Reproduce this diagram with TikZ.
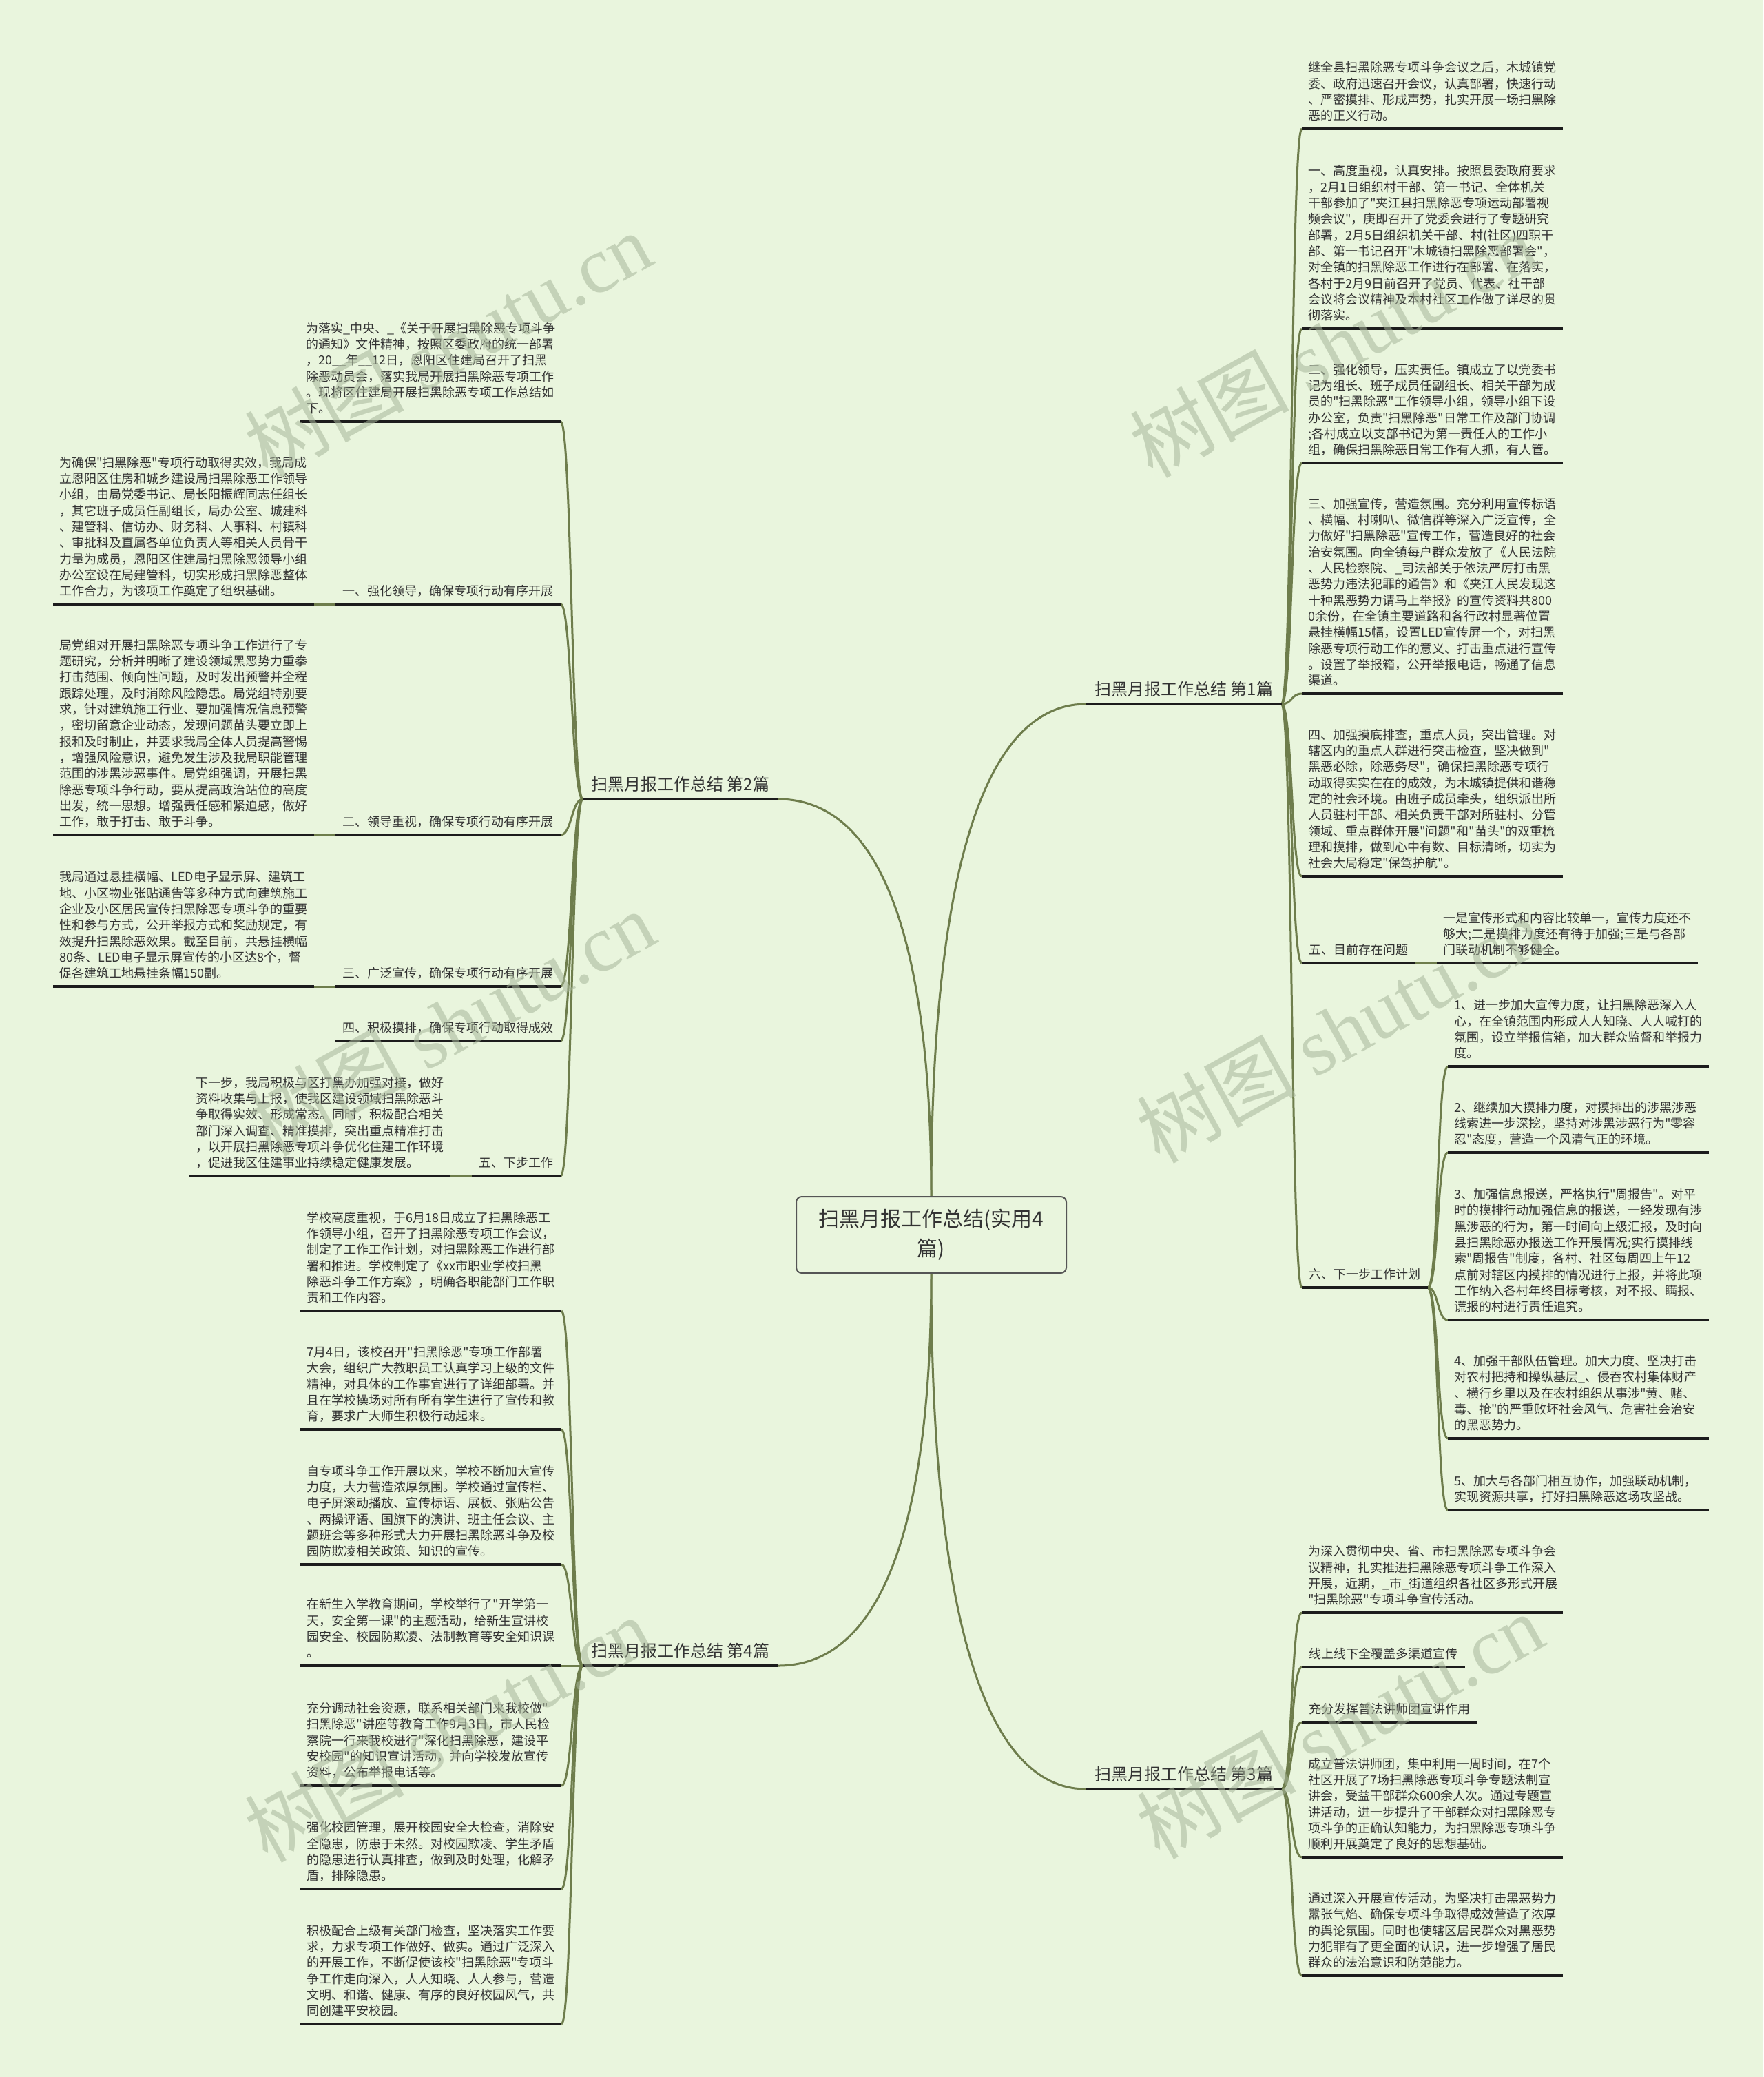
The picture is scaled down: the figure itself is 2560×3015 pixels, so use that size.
\documentclass[tikz,border=0pt]{standalone}
\usepackage{fontspec}
\setmainfont{Noto Sans CJK SC}[Ligatures=TeXOff]
\newfontfamily\wmlatin{Liberation Serif}
\usetikzlibrary{calc}
\definecolor{bg}{HTML}{E9F5DD}
\definecolor{txt}{HTML}{333333}
\definecolor{connc}{HTML}{6E7D4C}
\definecolor{ulc}{HTML}{1C1C1C}
\definecolor{rootline}{HTML}{555555}
\definecolor{wmc}{HTML}{A7B69A}
\tikzset{
  para/.style={font=\fontsize{9pt}{11.65pt}\selectfont, text=txt, align=left, text width=180pt, inner xsep=4.5pt, inner ysep=3pt, execute at end node={\rule[-3pt]{0pt}{1pt}}},
  lbl/.style={font=\fontsize{9pt}{11.65pt}\selectfont, text=txt, inner xsep=5pt, inner ysep=3pt, execute at end node={\rule[-3pt]{0pt}{1pt}}},
  br/.style={font=\fontsize{12pt}{14pt}\selectfont, text=txt, inner xsep=6pt, inner ysep=3pt, execute at end node={\rule[-3pt]{0pt}{1pt}}},
  rootbox/.style={draw=rootline, line width=1pt, rounded corners=4pt, fill=bg, minimum width=196pt, minimum height=55.5pt, align=center, font=\fontsize{15pt}{21.5pt}\selectfont, text=txt},
  conn/.style={draw=connc, line width=1.5pt},
  uline/.style={draw=ulc, line width=1.6pt},
  wm/.style={text=wmc, text opacity=0.55, rotate=29, font=\fontsize{58pt}{60pt}\selectfont, inner sep=0pt}
}
\newcommand\rootconn[2]{\draw[conn] (#1) .. controls ($(#1)!0.5!(#1 |- #2)$) and ($(#1 |- #2)!0.2!(#2)$) .. (#2);}
\newcommand\rconn[2]{\draw[conn] (#1) .. controls +(16,0) and +(-16,0) .. (#2);}
\newcommand\lconn[2]{\draw[conn] (#1) .. controls +(-16,0) and +(16,0) .. (#2);}
\begin{document}
\begin{tikzpicture}[x=0.5pt,y=-0.5pt]
\fill[bg] (0,0) rectangle (2560,3015);
\useasboundingbox (0,0) rectangle (2560,3015);

% ---------- branch labels ----------
\node[br, anchor=south west] (b1) at (1577,1022) {扫黑月报工作总结 第1篇};
\node[br, anchor=south west] (b2) at (846,1160) {扫黑月报工作总结 第2篇};
\node[br, anchor=south west] (b3) at (1577,2597) {扫黑月报工作总结 第3篇};
\node[br, anchor=south west] (b4) at (846,2418) {扫黑月报工作总结 第4篇};

% ---------- part 1 (right top) ----------
\node[para, anchor=south west] (r1) at (1890,187) {继全县扫黑除恶专项斗争会议之后，木城镇党\\委、政府迅速召开会议，认真部署，快速行动\\、严密摸排、形成声势，扎实开展一场扫黑除\\恶的正义行动。};
\node[para, anchor=south west] (r2) at (1890,477) {一、高度重视，认真安排。按照县委政府要求\\，2月1日组织村干部、第一书记、全体机关\\干部参加了"夹江县扫黑除恶专项运动部署视\\频会议"，庚即召开了党委会进行了专题研究\\部署，2月5日组织机关干部、村(社区)四职干\\部、第一书记召开"木城镇扫黑除恶部署会"，\\对全镇的扫黑除恶工作进行在部署、在落实，\\各村于2月9日前召开了党员、代表、社干部\\会议将会议精神及本村社区工作做了详尽的贯\\彻落实。};
\node[para, anchor=south west] (r3) at (1890,672) {二、强化领导，压实责任。镇成立了以党委书\\记为组长、班子成员任副组长、相关干部为成\\员的"扫黑除恶"工作领导小组，领导小组下设\\办公室，负责"扫黑除恶"日常工作及部门协调\\;各村成立以支部书记为第一责任人的工作小\\组，确保扫黑除恶日常工作有人抓，有人管。};
\node[para, anchor=south west] (r4) at (1890,1007) {三、加强宣传，营造氛围。充分利用宣传标语\\、横幅、村喇叭、微信群等深入广泛宣传，全\\力做好"扫黑除恶"宣传工作，营造良好的社会\\治安氛围。向全镇每户群众发放了《人民法院\\、人民检察院、\_司法部关于依法严厉打击黑\\恶势力违法犯罪的通告》和《夹江人民发现这\\十种黑恶势力请马上举报》的宣传资料共800\\0余份，在全镇主要道路和各行政村显著位置\\悬挂横幅15幅，设置LED宣传屏一个，对扫黑\\除恶专项行动工作的意义、打击重点进行宣传\\。设置了举报箱，公开举报电话，畅通了信息\\渠道。};
\node[para, anchor=south west] (r5) at (1890,1272) {四、加强摸底排查，重点人员，突出管理。对\\辖区内的重点人群进行突击检查，坚决做到"\\黑恶必除，除恶务尽"，确保扫黑除恶专项行\\动取得实实在在的成效，为木城镇提供和谐稳\\定的社会环境。由班子成员牵头，组织派出所\\人员驻村干部、相关负责干部对所驻村、分管\\领域、重点群体开展"问题"和"苗头"的双重梳\\理和摸排，做到心中有数、目标清晰，切实为\\社会大局稳定"保驾护航"。};
\node[lbl, anchor=south west] (r6) at (1890,1398) {五、目前存在问题};
\node[para, anchor=south west] (r6g) at (2086,1398) {一是宣传形式和内容比较单一，宣传力度还不\\够大;二是摸排力度还有待于加强;三是与各部\\门联动机制不够健全。};
\node[lbl, anchor=south west] (r7) at (1890,1869) {六、下一步工作计划};
\node[para, anchor=south west] (r7a) at (2102,1548) {1、进一步加大宣传力度，让扫黑除恶深入人\\心，在全镇范围内形成人人知晓、人人喊打的\\氛围，设立举报信箱，加大群众监督和举报力\\度。};
\node[para, anchor=south west] (r7b) at (2102,1673) {2、继续加大摸排力度，对摸排出的涉黑涉恶\\线索进一步深挖，坚持对涉黑涉恶行为"零容\\忍"态度，营造一个风清气正的环境。};
\node[para, anchor=south west] (r7c) at (2102,1916) {3、加强信息报送，严格执行"周报告"。对平\\时的摸排行动加强信息的报送，一经发现有涉\\黑涉恶的行为，第一时间向上级汇报，及时向\\县扫黑除恶办报送工作开展情况;实行摸排线\\索"周报告"制度，各村、社区每周四上午12\\点前对辖区内摸排的情况进行上报，并将此项\\工作纳入各村年终目标考核，对不报、瞒报、\\谎报的村进行责任追究。};
\node[para, anchor=south west] (r7d) at (2102,2088) {4、加强干部队伍管理。加大力度、坚决打击\\对农村把持和操纵基层\_、侵吞农村集体财产\\、横行乡里以及在农村组织从事涉"黄、赌、\\毒、抢"的严重败坏社会风气、危害社会治安\\的黑恶势力。};
\node[para, anchor=south west] (r7e) at (2102,2192) {5、加大与各部门相互协作，加强联动机制，\\实现资源共享，打好扫黑除恶这场攻坚战。};

% ---------- part 3 (right bottom) ----------
\node[para, anchor=south west] (s1) at (1890,2341) {为深入贯彻中央、省、市扫黑除恶专项斗争会\\议精神，扎实推进扫黑除恶专项斗争工作深入\\开展，近期，\_市\_街道组织各社区多形式开展\\"扫黑除恶"专项斗争宣传活动。};
\node[lbl, anchor=south west] (s2) at (1890,2420) {线上线下全覆盖多渠道宣传};
\node[lbl, anchor=south west] (s3) at (1890,2500) {充分发挥普法讲师团宣讲作用};
\node[para, anchor=south west] (s4) at (1890,2696) {成立普法讲师团，集中利用一周时间，在7个\\社区开展了7场扫黑除恶专项斗争专题法制宣\\讲会，受益干部群众600余人次。通过专题宣\\讲活动，进一步提升了干部群众对扫黑除恶专\\项斗争的正确认知能力，为扫黑除恶专项斗争\\顺利开展奠定了良好的思想基础。};
\node[para, anchor=south west] (s5) at (1890,2868) {通过深入开展宣传活动，为坚决打击黑恶势力\\嚣张气焰、确保专项斗争取得成效营造了浓厚\\的舆论氛围。同时也使辖区居民群众对黑恶势\\力犯罪有了更全面的认识，进一步增强了居民\\群众的法治意识和防范能力。};

% ---------- part 2 (left top) ----------
\node[para, anchor=south east] (l1) at (814,612) {为落实\_中央、\_《关于开展扫黑除恶专项斗争\\的通知》文件精神，按照区委政府的统一部署\\，20\_\_年\_\_12日，恩阳区住建局召开了扫黑\\除恶动员会，落实我局开展扫黑除恶专项工作\\。现将区住建局开展扫黑除恶专项工作总结如\\下。};
\node[lbl, anchor=south east] (l2) at (814,877) {一、强化领导，确保专项行动有序开展};
\node[para, anchor=south west] (g1) at (77,877) {为确保"扫黑除恶"专项行动取得实效，我局成\\立恩阳区住房和城乡建设局扫黑除恶工作领导\\小组，由局党委书记、局长阳振辉同志任组长\\，其它班子成员任副组长，局办公室、城建科\\、建管科、信访办、财务科、人事科、村镇科\\、审批科及直属各单位负责人等相关人员骨干\\力量为成员，恩阳区住建局扫黑除恶领导小组\\办公室设在局建管科，切实形成扫黑除恶整体\\工作合力，为该项工作奠定了组织基础。};
\node[lbl, anchor=south east] (l3) at (814,1212) {二、领导重视，确保专项行动有序开展};
\node[para, anchor=south west] (g2) at (77,1212) {局党组对开展扫黑除恶专项斗争工作进行了专\\题研究，分析并明晰了建设领域黑恶势力重拳\\打击范围、倾向性问题，及时发出预警并全程\\跟踪处理，及时消除风险隐患。局党组特别要\\求，针对建筑施工行业、要加强情况信息预警\\，密切留意企业动态，发现问题苗头要立即上\\报和及时制止，并要求我局全体人员提高警惕\\，增强风险意识，避免发生涉及我局职能管理\\范围的涉黑涉恶事件。局党组强调，开展扫黑\\除恶专项斗争行动，要从提高政治站位的高度\\出发，统一思想。增强责任感和紧迫感，做好\\工作，敢于打击、敢于斗争。};
\node[lbl, anchor=south east] (l4) at (814,1432) {三、广泛宣传，确保专项行动有序开展};
\node[para, anchor=south west] (g3) at (77,1432) {我局通过悬挂横幅、LED电子显示屏、建筑工\\地、小区物业张贴通告等多种方式向建筑施工\\企业及小区居民宣传扫黑除恶专项斗争的重要\\性和参与方式，公开举报方式和奖励规定，有\\效提升扫黑除恶效果。截至目前，共悬挂横幅\\80条、LED电子显示屏宣传的小区达8个，督\\促各建筑工地悬挂条幅150副。};
\node[lbl, anchor=south east] (l5) at (814,1511) {四、积极摸排，确保专项行动取得成效};
\node[lbl, anchor=south east] (l6) at (814,1707) {五、下步工作};
\node[para, anchor=south west] (g5) at (275,1707) {下一步，我局积极与区打黑办加强对接，做好\\资料收集与上报，使我区建设领域扫黑除恶斗\\争取得实效、形成常态。同时，积极配合相关\\部门深入调查、精准摸排，突出重点精准打击\\，以开展扫黑除恶专项斗争优化住建工作环境\\，促进我区住建事业持续稳定健康发展。};

% ---------- part 4 (left bottom) ----------
\node[para, anchor=south east] (f1) at (815,1903) {学校高度重视，于6月18日成立了扫黑除恶工\\作领导小组，召开了扫黑除恶专项工作会议，\\制定了工作工作计划，对扫黑除恶工作进行部\\署和推进。学校制定了《xx市职业学校扫黑\\除恶斗争工作方案》，明确各职能部门工作职\\责和工作内容。};
\node[para, anchor=south east] (f2) at (815,2075) {7月4日，该校召开"扫黑除恶"专项工作部署\\大会，组织广大教职员工认真学习上级的文件\\精神，对具体的工作事宜进行了详细部署。并\\且在学校操场对所有所有学生进行了宣传和教\\育，要求广大师生积极行动起来。};
\node[para, anchor=south east] (f3) at (815,2271) {自专项斗争工作开展以来，学校不断加大宣传\\力度，大力营造浓厚氛围。学校通过宣传栏、\\电子屏滚动播放、宣传标语、展板、张贴公告\\、两操评语、国旗下的演讲、班主任会议、主\\题班会等多种形式大力开展扫黑除恶斗争及校\\园防欺凌相关政策、知识的宣传。};
\node[para, anchor=south east] (f4) at (815,2418) {在新生入学教育期间，学校举行了"开学第一\\天，安全第一课"的主题活动，给新生宣讲校\\园安全、校园防欺凌、法制教育等安全知识课\\。};
\node[para, anchor=south east] (f5) at (815,2592) {充分调动社会资源，联系相关部门来我校做"\\扫黑除恶"讲座等教育工作9月3日，市人民检\\察院一行来我校进行"深化扫黑除恶，建设平\\安校园"的知识宣讲活动，并向学校发放宣传\\资料，公布举报电话等。};
\node[para, anchor=south east] (f6) at (815,2742) {强化校园管理，展开校园安全大检查，消除安\\全隐患，防患于未然。对校园欺凌、学生矛盾\\的隐患进行认真排查，做到及时处理，化解矛\\盾，排除隐患。};
\node[para, anchor=south east] (f7) at (815,2938) {积极配合上级有关部门检查，坚决落实工作要\\求，力求专项工作做好、做实。通过广泛深入\\的开展工作，不断促使该校"扫黑除恶"专项斗\\争工作走向深入，人人知晓、人人参与，营造\\文明、和谐、健康、有序的良好校园风气，共\\同创建平安校园。};

% ---------- connectors ----------
\rootconn{1352,1737}{b1.south west}
\rootconn{1352,1737}{b2.south east}
\rootconn{1352,1848}{b3.south west}
\rootconn{1352,1848}{b4.south east}

\foreach \c in {r1,r2,r3,r4,r5,r6,r7} {\rconn{b1.south east}{\c.south west}}
\draw[conn] (r6.south east) -- (r6g.south west);
\foreach \c in {r7a,r7b,r7c,r7d,r7e} {\rconn{r7.south east}{\c.south west}}
\foreach \c in {s1,s2,s3,s4,s5} {\rconn{b3.south east}{\c.south west}}
\foreach \c in {l1,l2,l3,l4,l5,l6} {\lconn{b2.south west}{\c.south east}}
\draw[conn] (g1.south east) -- (l2.south west);
\draw[conn] (g2.south east) -- (l3.south west);
\draw[conn] (g3.south east) -- (l4.south west);
\draw[conn] (g5.south east) -- (l6.south west);
\foreach \c in {f1,f2,f3,f4,f5,f6,f7} {\lconn{b4.south west}{\c.south east}}

% ---------- underlines ----------
\foreach \n in {b1,b2,b3,b4,r1,r2,r3,r4,r5,r6,r6g,r7,r7a,r7b,r7c,r7d,r7e,s1,s2,s3,s4,s5,l1,l2,g1,l3,g2,l4,g3,l5,l6,g5,f1,f2,f3,f4,f5,f6,f7}
  {\draw[uline] (\n.south west) -- (\n.south east);}

% ---------- root ----------
\node[rootbox] (root) at (1352,1792.5) {扫黑月报工作总结(实用4\\篇)};

% ---------- watermarks ----------
\node[wm] (w1) at (650,500) {树图 {\wmlatin shutu.cn}};
\node[wm] (w2) at (1935,500) {树图 {\wmlatin shutu.cn}};
\node[wm] (w3) at (655,1485) {树图 {\wmlatin shutu.cn}};
\node[wm] (w4) at (1945,1495) {树图 {\wmlatin shutu.cn}};
\node[wm] (w5) at (650,2510) {树图 {\wmlatin shutu.cn}};
\node[wm] (w6) at (1945,2505) {树图 {\wmlatin shutu.cn}};
\end{tikzpicture}
\end{document}
